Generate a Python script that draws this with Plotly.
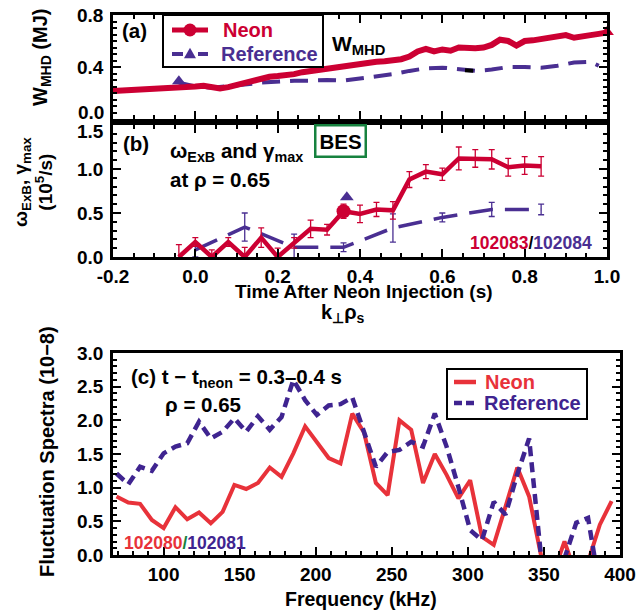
import plotly.graph_objects as go

# ---------------- data ----------------
# (a) W_MHD (MJ) vs time after neon injection (s)
t_a_neon = [-0.20, -0.16, -0.12, -0.08, -0.04, 0.00, 0.02, 0.04, 0.06, 0.08, 0.10, 0.12, 0.14, 0.16,
            0.18, 0.20, 0.22, 0.24, 0.26, 0.28, 0.30, 0.32, 0.34, 0.36, 0.38, 0.40, 0.42, 0.44, 0.46,
            0.48, 0.50, 0.52, 0.54, 0.56, 0.58, 0.60, 0.62, 0.64, 0.66, 0.68, 0.70, 0.72, 0.74, 0.76,
            0.78, 0.80, 0.82, 0.84, 0.86, 0.88, 0.90, 0.92, 0.94, 0.96, 0.98, 1.00]
w_a_neon = [0.215, 0.22, 0.225, 0.23, 0.245, 0.25, 0.255, 0.24, 0.235, 0.245, 0.26, 0.28, 0.30, 0.315,
            0.325, 0.33, 0.335, 0.345, 0.36, 0.37, 0.38, 0.385, 0.395, 0.40, 0.41, 0.42, 0.43, 0.44, 0.445,
            0.45, 0.46, 0.48, 0.52, 0.54, 0.52, 0.535, 0.525, 0.55, 0.545, 0.545, 0.55, 0.57, 0.61, 0.60,
            0.565, 0.60, 0.605, 0.615, 0.62, 0.63, 0.645, 0.625, 0.64, 0.645, 0.655, 0.665]
t_a_ref = [-0.04, 0.00, 0.04, 0.08, 0.12, 0.16, 0.20, 0.24, 0.28, 0.32, 0.36, 0.40, 0.44, 0.48,
           0.52, 0.56, 0.60, 0.64, 0.68, 0.72, 0.76, 0.80, 0.84, 0.88, 0.92, 0.96, 0.98]
w_a_ref = [0.28, 0.25, 0.24, 0.25, 0.265, 0.28, 0.29, 0.295, 0.295, 0.30, 0.295, 0.31, 0.33, 0.345,
           0.37, 0.39, 0.395, 0.38, 0.37, 0.38, 0.40, 0.40, 0.395, 0.41, 0.435, 0.44, 0.41]
t_a_black = [0.655, 0.675]
w_a_black = [0.375, 0.372]
t_a_ref_mark = [-0.04]
w_a_ref_mark = [0.29]
t_a_neon_mark = [1.00]
w_a_neon_mark = [0.67]

# (b) omega_ExB and gamma_max (1e5 /s)
t_b_neon = [-0.04, 0.00, 0.04, 0.08, 0.12, 0.16, 0.20, 0.24, 0.28, 0.32, 0.36, 0.40,
            0.44, 0.48, 0.52, 0.56, 0.60, 0.64, 0.68, 0.72, 0.76, 0.80, 0.84]
g_b_neon = [0.00, 0.17, 0.00, 0.17, 0.00, 0.22, 0.00, 0.16, 0.32, 0.31, 0.52, 0.49,
            0.54, 0.53, 0.88, 0.97, 0.94, 1.12, 1.12, 1.11, 1.02, 1.04, 1.03]
e_b_neon = [0.14, 0.05, 0.08, 0.05, 0.11, 0.11, 0.10, 0.06, 0.10, 0.06, 0.08, 0.10,
            0.08, 0.10, 0.09, 0.08, 0.07, 0.13, 0.10, 0.11, 0.10, 0.10, 0.11]
t_b_ref = [0.00, 0.12, 0.24, 0.36, 0.48, 0.60, 0.72, 0.84]
g_b_ref = [0.08, 0.34, 0.11, 0.11, 0.33, 0.45, 0.54, 0.54]
e_b_ref = [0.08, 0.16, 0.15, 0.05, 0.16, 0.05, 0.08, 0.06]
t_b_circle = [0.36]
g_b_circle = [0.52]
t_b_tri = [0.368]
g_b_tri = [0.68]

# (c) fluctuation spectra (1e-8) vs frequency (kHz)
freq_c = [69.0, 76.75, 84.5, 92.25, 100.0, 107.75, 115.5, 123.25, 131.0, 138.75, 146.5, 154.25,
          162.0, 169.75, 177.5, 185.25, 193.0, 200.75, 208.5, 216.25, 224.0, 231.75, 239.5, 247.25,
          255.0, 262.75, 270.5, 278.25, 286.0, 293.75, 301.5, 309.25, 317.0, 324.75, 332.5, 340.25,
          348.0, 355.75, 363.5, 371.25, 379.0, 386.75, 394.5]
spec_neon = [0.87, 0.78, 0.76, 0.52, 0.40, 0.71, 0.53, 0.63, 0.47, 0.64, 1.04, 0.98,
             1.07, 1.30, 1.16, 1.51, 1.91, 1.68, 1.44, 1.36, 2.10, 1.82, 1.07, 0.89,
             2.00, 1.86, 1.07, 1.50, 1.19, 0.84, 1.11, 0.27, 0.15, 0.72, 1.30, 0.87,
             0.00, -0.30, 0.20, -0.30, -0.10, 0.45, 0.80]
spec_ref = [1.21, 1.05, 1.31, 1.25, 1.51, 1.61, 1.66, 1.98, 1.73, 1.83, 2.03, 1.83,
            2.06, 1.86, 2.05, 2.60, 2.30, 2.08, 2.22, 2.24, 2.34, 1.80, 1.31, 1.53,
            1.56, 1.68, 1.61, 2.10, 1.61, 1.01, 0.37, 0.22, 0.79, 0.60, 1.20, 1.73,
            0.00, -0.50, -0.05, 0.48, 0.55, -0.50, -0.30]

# axis ticks / labels
time_ticks = [-0.2, 0.0, 0.2, 0.4, 0.6, 0.8, 1.0]
time_ticktext = ["-0.2", "0.0", "0.2", "0.4", "0.6", "0.8", "1.0"]
w_ticks = [0.0, 0.4, 0.8]
g_ticks = [0.0, 0.5, 1.0, 1.5]
spec_ticks = [0.0, 0.5, 1.0, 1.5, 2.0, 2.5, 3.0]
freq_ticks = [100, 150, 200, 250, 300, 350, 400]
k_ticks = [0.10, 0.15, 0.20, 0.25, 0.30, 0.35, 0.40]
freq_range = [66.7, 400.0]
khz_per_krho = 900.0   # k_perp rho_s = f / 900 kHz

# ---------------- style ----------------
W, H = 641, 614
FONT = "Liberation Sans, Arial, Helvetica, sans-serif"
RED = "#cc0033"
RED_C = "#e8323a"
PURPLE = "#4a2f92"
PURPLE_C = "#3f2490"
GREEN = "#17823f"


def px(x):
    return x / W


def py(y):
    return 1 - y / H


fig = go.Figure()

# ---- panel (a)
fig.add_trace(go.Scatter(x=t_a_ref, y=w_a_ref, mode="lines", xaxis="x", yaxis="y",
                         line=dict(color=PURPLE, width=4, dash="18px,10px")))
fig.add_trace(go.Scatter(x=t_a_black, y=w_a_black, mode="lines", xaxis="x", yaxis="y",
                         line=dict(color="black", width=4)))
fig.add_trace(go.Scatter(x=t_a_neon, y=w_a_neon, mode="lines", xaxis="x", yaxis="y",
                         line=dict(color=RED, width=6)))
fig.add_trace(go.Scatter(x=t_a_ref_mark, y=w_a_ref_mark, mode="markers", xaxis="x", yaxis="y",
                         marker=dict(symbol="triangle-up", size=12, color=PURPLE), cliponaxis=False))
fig.add_trace(go.Scatter(x=t_a_neon_mark, y=w_a_neon_mark, mode="markers", xaxis="x", yaxis="y",
                         marker=dict(symbol="triangle-up", size=12, color=RED), cliponaxis=False))

# ---- panel (b)
fig.add_trace(go.Scatter(x=t_b_ref, y=g_b_ref, mode="lines", xaxis="x2", yaxis="y2",
                         line=dict(color=PURPLE, width=3.5, dash="24px,12px"),
                         error_y=dict(type="data", array=e_b_ref, color=PURPLE, thickness=1.3, width=3)))
fig.add_trace(go.Scatter(x=t_b_neon, y=g_b_neon, mode="lines", xaxis="x2", yaxis="y2",
                         line=dict(color=RED, width=4.5),
                         error_y=dict(type="data", array=e_b_neon, color=RED, thickness=1.3, width=3)))
fig.add_trace(go.Scatter(x=t_b_circle, y=g_b_circle, mode="markers", xaxis="x2", yaxis="y2",
                         marker=dict(symbol="circle", size=14, color=RED)))
fig.add_trace(go.Scatter(x=t_b_tri, y=g_b_tri, mode="markers", xaxis="x2", yaxis="y2",
                         marker=dict(symbol="triangle-up", size=12, color=PURPLE)))

# ---- panel (c)
fig.add_trace(go.Scatter(x=freq_c, y=spec_neon, mode="lines", xaxis="x3", yaxis="y3",
                         name="Neon", line=dict(color=RED_C, width=4)))
fig.add_trace(go.Scatter(x=freq_c, y=spec_ref, mode="lines", xaxis="x3", yaxis="y3",
                         name="Reference", line=dict(color=PURPLE_C, width=4.5, dash="10px,6px")))

tickfont = dict(family=FONT, size=19, color="black", weight="bold")
common = dict(showgrid=False, zeroline=False, showline=True, linecolor="black", linewidth=2.5,
              ticks="inside", tickcolor="black", tickwidth=1.5, ticklen=8, tickfont=tickfont,
              mirror="allticks", automargin=False)
ycommon = dict(common, ticklabelstandoff=3)

dom_ab = [px(113), px(607)]
dom_c = [px(113), px(620)]

fig.update_layout(
    template="none", showlegend=False,
    width=W, height=H, margin=dict(l=0, r=0, t=0, b=0, autoexpand=False),
    paper_bgcolor="white", plot_bgcolor="white",
    font=dict(family=FONT, color="black"),
    xaxis=dict(domain=dom_ab, anchor="y", range=[-0.2, 1.0], tickvals=time_ticks,
               showticklabels=False,
               minor=dict(dtick=0.05, ticks="inside", ticklen=4, tickcolor="black"), **common),
    yaxis=dict(domain=[py(119), py(15)], anchor="x", range=[0, 0.8], tickvals=w_ticks,
               ticktext=["" if v == 0 else "%.1f" % v for v in w_ticks],
               minor=dict(dtick=0.05, ticks="inside", ticklen=4, tickcolor="black"), **ycommon),
    xaxis2=dict(domain=dom_ab, anchor="y2", range=[-0.2, 1.0], tickvals=time_ticks,
                ticktext=time_ticktext,
                minor=dict(dtick=0.05, ticks="inside", ticklen=4, tickcolor="black"), **common),
    yaxis2=dict(domain=[py(257), py(125)], anchor="x2", range=[0, 1.5], tickvals=g_ticks,
                ticktext=["" if v == 1.5 else "%.1f" % v for v in g_ticks],
                minor=dict(dtick=0.1, ticks="inside", ticklen=4, tickcolor="black"), **ycommon),
    xaxis3=dict(domain=dom_c, anchor="y3", range=freq_range, tickvals=freq_ticks,
                minor=dict(dtick=10, ticks="inside", ticklen=4, tickcolor="black"),
                **{**common, "mirror": True}),
    yaxis3=dict(domain=[py(555), py(353)], anchor="x3", range=[0, 3.0], tickvals=spec_ticks,
                ticktext=["%.1f" % v for v in spec_ticks],
                minor=dict(dtick=0.1, ticks="inside", ticklen=4, tickcolor="black"), **ycommon),
    xaxis4=dict(domain=dom_c, anchor="y3", overlaying="x3", side="top",
                range=[freq_range[0] / khz_per_krho, freq_range[1] / khz_per_krho],
                tickvals=k_ticks, ticktext=["%.2f" % v for v in k_ticks],
                minor=dict(dtick=0.01, ticks="inside", ticklen=4, tickcolor="black"),
                **{**common, "mirror": False}),
)


def ann(text, x, y, size=20.5, xanchor="left", yanchor="middle", angle=0, color="black", **kw):
    fig.add_annotation(text=text, x=px(x), y=py(y), xref="paper", yref="paper",
                       xanchor=xanchor, yanchor=yanchor, textangle=angle, showarrow=False,
                       font=dict(family=FONT, size=size, color=color, weight="bold"), **kw)


def shape_line(x0, x1, y, color, width, dash="solid"):
    fig.add_shape(type="line", xref="paper", yref="paper", x0=px(x0), x1=px(x1), y0=py(y), y1=py(y),
                  line=dict(color=color, width=width, dash=dash), layer="above")


def shape_box(x0, x1, y0, y1, color="black", width=2):
    fig.add_shape(type="rect", xref="paper", yref="paper", x0=px(x0), x1=px(x1), y0=py(y1), y1=py(y0),
                  line=dict(color=color, width=width), fillcolor="white", layer="above")


def shape_circle(cx, cy, r, color):
    fig.add_shape(type="circle", xref="paper", yref="paper", x0=px(cx - r), x1=px(cx + r),
                  y0=py(cy + r), y1=py(cy - r), line=dict(color=color, width=0), fillcolor=color,
                  layer="above")


def shape_triangle(cx, cy, s, color):
    path = "M %f,%f L %f,%f L %f,%f Z" % (px(cx - s / 2), py(cy + s * 0.43), px(cx + s / 2),
                                          py(cy + s * 0.43), px(cx), py(cy - s * 0.43))
    fig.add_shape(type="path", xref="paper", yref="paper", path=path,
                  line=dict(color=color, width=0), fillcolor=color, layer="above")


# legend (a)
shape_box(163, 323, 15, 67)
shape_line(172, 208, 30, RED, 5)
shape_circle(190, 30, 6.5, RED)
shape_line(172, 183, 54, PURPLE, 4)
shape_line(198, 208, 54, PURPLE, 4)
shape_triangle(190, 53, 12, PURPLE)
ann("Neon", 221, 30, size=20, color=RED)
ann("Reference", 219, 54, size=20, color=PURPLE)

# legend (c)
shape_box(447, 587, 369, 419)
shape_line(454, 476, 382, RED_C, 4.5)
shape_line(454, 476, 403, PURPLE_C, 4.5, dash="8px,4px")
ann("Neon", 483, 382, size=20, color=RED_C)
ann("Reference", 482, 403, size=20, color=PURPLE_C)

# panel labels and texts
ann("(a)", 120, 30)
ann("W<sub>MHD</sub>", 330, 45, size=21)
ann("(b)", 121, 143)
ann("ω<sub>ExB</sub> and γ<sub>max</sub>", 168, 152)
ann("at ρ = 0.65", 168, 179)
ann("BES", 340, 141, xanchor="center", bordercolor=GREEN, borderwidth=2.5, borderpad=3, bgcolor="white")
ann("<span style='color:%s'>102083</span>/<span style='color:%s'>102084</span>" % (RED, PURPLE),
    594, 243, xanchor="right", size=17.5)
ann("(c) t − t<sub>neon</sub> = 0.3–0.4 s", 129, 378)
ann("ρ = 0.65", 163, 404)
ann("<span style='color:%s'>102080</span><span style='color:%s'>/</span><span style='color:%s'>102081</span>"
    % (RED_C, GREEN, PURPLE_C), 122, 543, size=17.5)

# tick labels nudged apart where panels (a) and (b) meet
ann("0.0", 106, 113, size=19, xanchor="right")
ann("1.5", 106, 131, size=19, xanchor="right")

# axis titles
ann("Time After Neon Injection (s)", 364, 291, size=19, xanchor="center")
ann("k<sub>⊥</sub>ρ<sub>s</sub>", 343, 313, size=20, xanchor="center")
ann("Frequency (kHz)", 361, 599, size=19.5, xanchor="center")
ann("W<sub>MHD</sub> (MJ)", 41, 58, size=20, xanchor="center", angle=-90)
ann("ω<sub>ExB</sub>, γ<sub>max</sub><br>(10<sup>5</sup>/s)", 33, 182, size=19, xanchor="center", angle=-90)
ann("Fluctuation Spectra (10−8)", 47, 452, size=20, xanchor="center", angle=-90)

fig.write_html("out.html")
